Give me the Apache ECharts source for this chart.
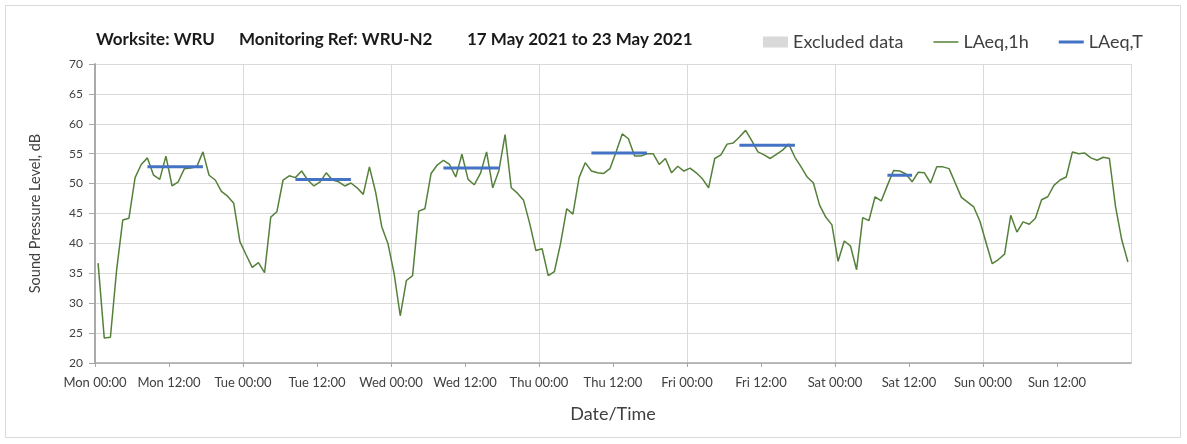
<!DOCTYPE html>
<html>
<head>
<meta charset="utf-8">
<script src="https://cdn.jsdelivr.net/npm/echarts@6/dist/echarts.min.js"></script>
<style>
  html, body { margin: 0; padding: 0; background: #fff; }
  #main { width: 1187px; height: 444px; }
</style>
</head>
<body>
<div id="main"></div>
<script>
// hourly LAeq,1h values, Mon 00:00 -> Sun 23:00
var laeq1h = [
    36.7, 24.2, 24.3, 35.5, 43.9, 44.2, 51.0, 53.2, 54.3, 51.4, 50.7, 54.6,
    49.6, 50.3, 52.5, 52.6, 52.8, 55.3, 51.4, 50.6, 48.7, 47.9, 46.7, 40.3,
    38.1, 36.0, 36.8, 35.1, 44.4, 45.3, 50.6, 51.3, 51.0, 52.1, 50.6, 49.6,
    50.3, 51.8, 50.6, 50.3, 49.6, 50.1, 49.3, 48.2, 52.8, 48.6, 42.8, 40.0,
    35.0, 27.9, 33.8, 34.6, 45.4, 45.8, 51.7, 53.1, 53.9, 53.2, 51.1, 54.9,
    50.7, 49.8, 51.7, 55.3, 49.3, 52.2, 58.2, 49.3, 48.4, 47.2, 43.3, 38.8,
    39.1, 34.6, 35.3, 40.0, 45.8, 44.9, 51.0, 53.5, 52.1, 51.8, 51.7, 52.5,
    55.3, 58.3, 57.5, 54.6, 54.6, 55.0, 55.0, 53.2, 54.2, 51.8, 52.9, 52.1,
    52.6, 51.8, 50.8, 49.3, 54.2, 54.8, 56.6, 56.8, 57.8, 58.9, 57.2, 55.3,
    54.8, 54.2, 54.9, 55.6, 56.6, 54.4, 52.8, 51.1, 50.1, 46.4, 44.4, 43.1,
    37.0, 40.4, 39.6, 35.6, 44.3, 43.8, 47.8, 47.1, 49.7, 52.2, 52.1, 51.6,
    50.3, 51.9, 51.8, 50.1, 52.8, 52.8, 52.5, 50.1, 47.7, 46.9, 46.1, 43.7,
    40.1, 36.6, 37.3, 38.2, 44.7, 41.9, 43.6, 43.2, 44.2, 47.3, 47.8, 49.7,
    50.6, 51.1, 55.3, 55.0, 55.1, 54.3, 53.9, 54.4, 54.2, 46.1, 40.6, 36.9
];

// LAeq,T for each working period (day index, first hour, last hour, level)
var tDays   = [0, 1, 2, 3, 4, 5];
var tStart  = [8, 8, 8, 8, 8, 8];
var tEnd    = [17, 17, 17, 17, 17, 12];
var tValues = [52.8, 50.7, 52.6, 55.1, 56.4, 51.4];

var dayNames = ['Mon', 'Tue', 'Wed', 'Thu', 'Fri', 'Sat', 'Sun', 'Mon'];
var yTicks = [20, 25, 30, 35, 40, 45, 50, 55, 60, 65, 70];
var titleParts = ['Worksite: WRU', 'Monitoring Ref: WRU-N2', '17 May 2021 to 23 May 2021'];
var titleLeft = [96, 239, 467];

var font = 'Lato';
var chart = echarts.init(document.getElementById('main'));

var lineData = laeq1h.map(function (v, i) { return [i + 0.5, v]; });

var series = [
    {
        name: 'Excluded data',
        type: 'bar',
        data: [],
        itemStyle: { color: '#d9d9d9' }
    },
    {
        name: 'LAeq,1h',
        type: 'line',
        data: lineData,
        symbol: 'none',
        lineStyle: { color: '#55803a', width: 1.5 },
        itemStyle: { color: '#55803a' },
        z: 3
    }
];
tDays.forEach(function (d, k) {
    series.push({
        name: 'LAeq,T',
        type: 'line',
        symbol: 'none',
        data: [[d * 24 + tStart[k] + 0.5, tValues[k]], [d * 24 + tEnd[k] + 0.5, tValues[k]]],
        lineStyle: { color: '#4472c4', width: 3 },
        itemStyle: { color: '#4472c4' },
        z: 4
    });
});

var graphics = [{
    type: 'rect',
    shape: { x: 5.5, y: 5.5, width: 1175, height: 432 },
    style: { fill: 'none', stroke: '#d9d9d9', lineWidth: 1 },
    silent: true
}];
titleParts.forEach(function (t, k) {
    graphics.push({
        type: 'text',
        left: titleLeft[k],
        top: 31,
        style: { text: t, font: 'bold 17px Lato', fill: '#1a1a1a' }
    });
});

var option = {
    animation: false,
    backgroundColor: '#fff',
    textStyle: { fontFamily: font },
    legend: {
        left: 758,
        top: 28,
        itemGap: 30,
        itemWidth: 25,
        itemHeight: 11,
        textStyle: { fontFamily: font, fontSize: 18, color: '#404040' },
        data: [
            { name: 'Excluded data', icon: 'rect' },
            { name: 'LAeq,1h', icon: 'path://M0,0H50V3H0Z' },
            { name: 'LAeq,T', icon: 'path://M0,0H25V3H0Z' }
        ]
    },
    graphic: graphics,
    grid: { left: 95, right: 56, top: 64, bottom: 81 },
    xAxis: [
        {
            type: 'value',
            min: 0,
            max: 168,
            interval: 12,
            name: 'Date/Time',
            nameLocation: 'middle',
            nameGap: 42,
            nameTextStyle: { fontFamily: font, fontSize: 18, color: '#404040' },
            axisLine: { show: true, onZero: false, lineStyle: { color: '#a6a6a6', width: 1.5 } },
            axisTick: { show: true, length: 4, lineStyle: { color: '#a6a6a6' } },
            axisLabel: {
                fontFamily: font, fontSize: 13, color: '#404040', margin: 13,
                showMaxLabel: false,
                formatter: function (v) {
                    return dayNames[Math.floor(v / 24)] + ' ' + (v % 24 === 0 ? '00:00' : '12:00');
                }
            },
            splitLine: { show: false }
        },
        {
            type: 'value',
            min: 0,
            max: 168,
            interval: 24,
            position: 'bottom',
            axisLine: { show: false },
            axisTick: { show: false },
            axisLabel: { show: false },
            splitLine: { show: true, lineStyle: { color: '#d9d9d9', width: 1 } }
        }
    ],
    yAxis: [
        {
            type: 'value',
            min: yTicks[0],
            max: yTicks[yTicks.length - 1],
            interval: 5,
            name: 'Sound Pressure Level, dB',
            nameLocation: 'middle',
            nameGap: 52,
            nameTextStyle: { fontFamily: font, fontSize: 14.5, color: '#404040' },
            axisLine: { show: true, lineStyle: { color: '#a6a6a6', width: 1.5 } },
            axisTick: { show: true, length: 6, lineStyle: { color: '#a6a6a6' } },
            axisLabel: { fontFamily: font, fontSize: 12, color: '#404040', margin: 12 },
            splitLine: { show: true, lineStyle: { color: '#d9d9d9', width: 1 } }
        },
        {
            type: 'value',
            min: yTicks[0],
            max: yTicks[yTicks.length - 1],
            interval: 5,
            position: 'right',
            axisLine: { show: true, lineStyle: { color: '#a6a6a6', width: 1.5 } },
            axisTick: { show: false },
            axisLabel: { show: false },
            splitLine: { show: false }
        }
    ],
    series: series
};

chart.setOption(option);
</script>
</body>
</html>
